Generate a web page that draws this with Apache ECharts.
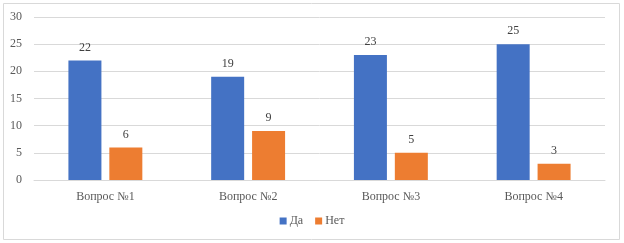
<!DOCTYPE html>
<html>
<head>
<meta charset="utf-8">
<script src="https://cdn.jsdelivr.net/npm/echarts@6/dist/echarts.min.js"></script>
<style>
    html, body { margin: 0; padding: 0; background: #fff; }
    #chart { width: 624px; height: 243px; }
</style>
</head>
<body>
<div id="chart"></div>
<script>
let categories = ['Вопрос №1', 'Вопрос №2', 'Вопрос №3', 'Вопрос №4'];
let valuesYes = [22, 19, 23, 25];
let valuesNo = [6, 9, 5, 3];

let textFont = '"Liberation Serif", "Times New Roman", serif';

let chart = echarts.init(document.getElementById('chart'));

let option = {
    animation: false,
    textStyle: { fontFamily: textFont },
    graphic: [
        {
            type: 'rect',
            shape: { x: 3.5, y: 3.5, width: 616, height: 236 },
            style: { fill: 'none', stroke: '#d9d9d9', lineWidth: 1 },
            silent: true
        }
    ],
    grid: {
        left: 34,
        right: 19,
        top: 17,
        bottom: 63
    },
    legend: {
        bottom: 11,
        left: 'center',
        itemWidth: 7,
        itemHeight: 7,
        itemGap: 12,
        icon: 'rect',
        textStyle: { fontFamily: textFont, fontSize: 12, color: '#595959', padding: [0, 0, 0, -2] },
        data: ['Да', 'Нет']
    },
    xAxis: {
        type: 'category',
        data: categories,
        axisLine: { lineStyle: { color: '#d9d9d9' } },
        axisTick: { show: false },
        axisLabel: { fontFamily: textFont, fontSize: 12, color: '#595959', margin: 11 }
    },
    yAxis: {
        type: 'value',
        min: 0,
        max: 30,
        interval: 5,
        axisLine: { show: false },
        axisTick: { show: false },
        axisLabel: { fontFamily: textFont, fontSize: 12, color: '#595959', margin: 12 },
        splitLine: { lineStyle: { color: '#d9d9d9' } }
    },
    series: [
        {
            name: 'Да',
            type: 'bar',
            data: valuesYes,
            barWidth: 33,
            barGap: '24%',
            itemStyle: { color: '#4472c4' },
            label: {
                show: true,
                position: 'top',
                distance: 7,
                fontFamily: textFont,
                fontSize: 12,
                color: '#404040'
            }
        },
        {
            name: 'Нет',
            type: 'bar',
            data: valuesNo,
            barWidth: 33,
            itemStyle: { color: '#ed7d31' },
            label: {
                show: true,
                position: 'top',
                distance: 7,
                fontFamily: textFont,
                fontSize: 12,
                color: '#404040'
            }
        }
    ]
};

chart.setOption(option);
</script>
</body>
</html>
